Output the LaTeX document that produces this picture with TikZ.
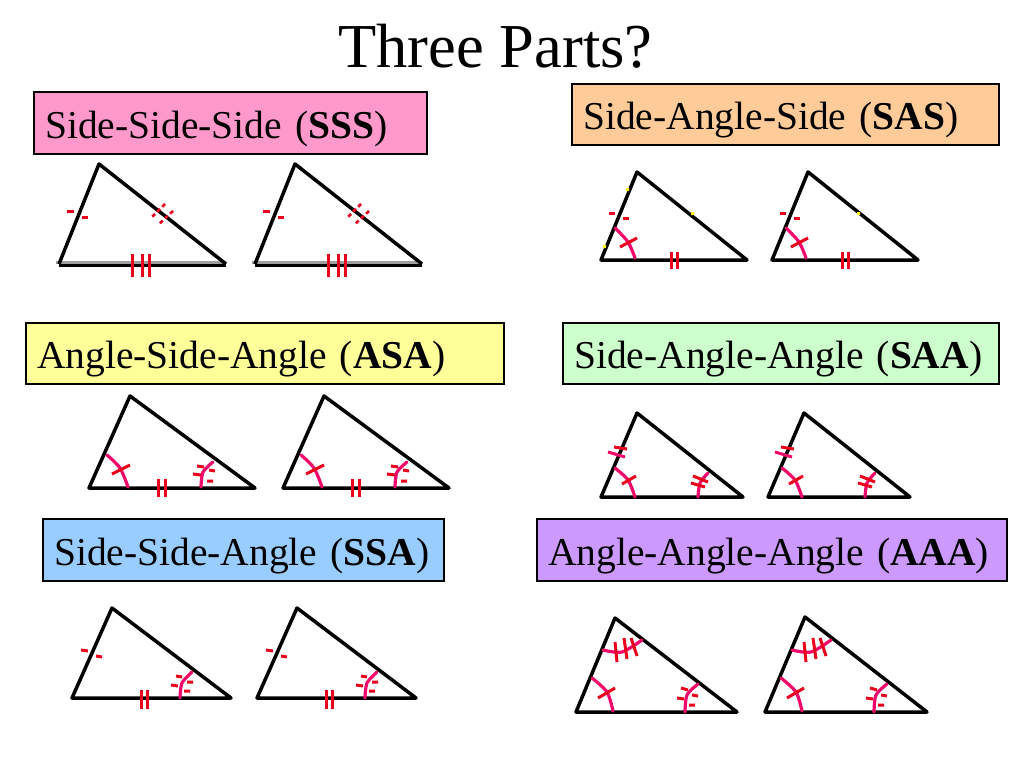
\documentclass[tikz,border=0pt]{standalone}
\usepackage{fontspec}
\setmainfont{Liberation Serif}
\definecolor{tickred}{HTML}{E8001C}
\definecolor{arcpink}{HTML}{F0086A}
\tikzset{
  x=1pt,y=-1pt,
  labelbox/.style={draw=black,line width=2.2pt,anchor=north west,inner xsep=11pt,inner ysep=0pt,align=left,text height=38pt,text depth=8pt,font=\fontsize{39.5}{44}\selectfont},
  triside/.style={draw=black,line width=3.5pt,line join=round},
  tick/.style={draw=tickred,line width=3pt},
  fine/.style={draw=tickred,line width=3pt},
  arcm/.style={draw=arcpink,line width=3.2pt,line cap=round},
  speck/.style={fill=yellow!90!white,draw=none}
}
\newcommand{\tria}[6]{\draw[triside] (#1,#2) -- (#3,#4) -- (#5,#6) -- cycle;}
\newcommand{\figSSS}{
  \draw[draw=gray!75,line width=3pt] (56,262.5) -- (224,262.5);
  \draw[black,line width=3pt] (59,265) -- (226,265);
  \draw[triside] (59,264) -- (99,164) -- (226,264);
  \draw[fine] (67,211) -- (74,211) (82,217) -- (88,217);
  \draw[fine,line width=2.6pt,dash pattern=on 4pt off 3pt] (165,204) -- (151,218);
  \draw[fine,line width=2.6pt,dash pattern=on 4pt off 3pt] (173,211) -- (158,225);
  \draw[tick] (132,254) -- (132,277) (142,254) -- (142,277) (149,254) -- (149,277);
}
\newcommand{\figSAS}{
  \tria{637}{172}{601}{260}{747}{260}
  \draw[fine] (609,213) -- (615,213) (623,218) -- (629,218);
  \draw[arcm] plot[smooth] coordinates {(615,228) (628,242) (635,258)};
  \draw[tick] (620,247) -- (637,238);
  \draw[tick] (671,252) -- (671,269) (677,252) -- (677,269);
}
\newcommand{\figASA}{
  \tria{130}{396}{89}{488}{255}{488}
  \draw[arcm] plot[smooth] coordinates {(107,455) (120,468) (128,487)};
  \draw[tick] (112,474) -- (130,465);
  \draw[arcm] plot[smooth] coordinates {(213,462) (203,472) (201,487)};
  \draw[fine] (197,466) -- (204,467) (209,470) -- (215,471);
  \draw[fine] (193,474) -- (201,475) (207,481) -- (213,481);
  \draw[tick] (158,479) -- (158,497) (165,479) -- (165,497);
}
\newcommand{\figSAA}{
  \tria{637}{413}{601}{497}{743}{497}
  \draw[fine] (614,447) -- (627,449);
  \draw[arcpink,line width=3pt] (608,452) -- (625,457);
  \draw[arcm] plot[smooth] coordinates {(615,468) (628,480) (635,497)};
  \draw[tick] (622,484) -- (636,476);
  \draw[arcm] plot[smooth] coordinates {(708,473) (700,483) (698,497)};
  \draw[tick] (693,476) -- (708,482);
  \draw[tick] (691,483) -- (705,487);
}
\newcommand{\figSSA}{
  \tria{112}{608}{72}{698}{231}{698}
  \draw[fine] (81,650) -- (88,651) (96,656) -- (102,657);
  \draw[tick] (141,690) -- (141,709) (147,690) -- (147,709);
  \draw[arcm] plot[smooth] coordinates {(192,672) (182,683) (180,698)};
  \draw[fine] (176,676) -- (182,677) (187,682) -- (193,682);
  \draw[fine] (171,685) -- (178,686) (184,691) -- (190,691);
}
\newcommand{\figAAA}{
  \draw[arcm] plot[smooth] coordinates {(603,650) (622,652) (642,640)};
  \draw[tick] (615,642) -- (617,662) (624,638) -- (627,659) (631,638) -- (637,656);
  \draw[arcm] plot[smooth] coordinates {(592,678) (607,692) (613,711)};
  \draw[tick] (598,698) -- (615,688);
  \draw[arcm] plot[smooth] coordinates {(698,684) (687,695) (685,712)};
  \draw[fine] (681,688) -- (688,690) (692,695) -- (698,696);
  \draw[fine] (677,698) -- (684,699) (689,705) -- (695,705);
}
\begin{document}
\begin{tikzpicture}
\useasboundingbox[fill=white] (0,0) rectangle (1024,768);
\node[font=\fontsize{62.5}{70}\selectfont,anchor=base] (title) at (495.5,67) {Three Parts?};

\node[labelbox,fill={rgb,255:red,255;green,153;blue,204},minimum width=393pt,minimum height=62pt,text width=371pt] (sss) at (33,91) {Side-Side-Side (\textbf{SSS})};
\node[labelbox,fill={rgb,255:red,255;green,204;blue,153},minimum width=427pt,minimum height=61pt,text width=405pt] (sas) at (571,83) {Side-Angle-Side (\textbf{SAS})};
\node[labelbox,fill={rgb,255:red,255;green,255;blue,153},minimum width=478pt,minimum height=61pt,text width=456pt] (asa) at (25,322) {Angle-Side-Angle (\textbf{ASA})};
\node[labelbox,fill={rgb,255:red,204;green,255;blue,204},minimum width=436pt,minimum height=61pt,text width=414pt] (saa) at (562,322) {Side-Angle-Angle (\textbf{SAA})};
\node[labelbox,fill={rgb,255:red,153;green,204;blue,255},minimum width=401pt,minimum height=62pt,text width=379pt] (ssa) at (42,518) {Side-Side-Angle (\textbf{SSA})};
\node[labelbox,fill={rgb,255:red,204;green,153;blue,255},minimum width=470pt,minimum height=62pt,text width=448pt] (aaa) at (536,518) {Angle-Angle-Angle (\textbf{AAA})};

\figSSS
\begin{scope}[shift={(196,0)}]\figSSS\end{scope}
\figSAS
\begin{scope}[shift={(171,0)}]\figSAS\end{scope}
\fill[speck] (626,188) rectangle (629,191) (603,245) rectangle (606,248) (691,212) rectangle (694,215) (857,212) rectangle (860,215);
\figASA
\begin{scope}[shift={(194,0)}]\figASA\end{scope}
\figSAA
\begin{scope}[shift={(167,0)}]\figSAA\end{scope}
\figSSA
\begin{scope}[shift={(185,0)}]\figSSA\end{scope}
\tria{615}{618}{576}{712}{737}{712}
\figAAA
\tria{805}{617}{765}{712}{927}{712}
\begin{scope}[shift={(189,0)}]\figAAA\end{scope}
\end{tikzpicture}
\end{document}
